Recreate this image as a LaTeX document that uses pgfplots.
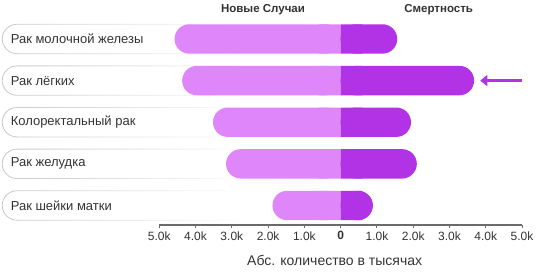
\documentclass[border=0pt]{standalone}
\usepackage{fontspec}
\setmainfont{Liberation Sans}
\usepackage{pgfplots}
\pgfplotsset{compat=1.18}
\usetikzlibrary{fadings,arrows.meta}
\definecolor{lightp}{HTML}{DF86FA}
\definecolor{darkp}{HTML}{B233E6}
\definecolor{axgray}{HTML}{6B6B6B}
\definecolor{txt}{HTML}{333333}
\tikzset{lbox/.style={draw=black!22, line width=0.8pt, rounded corners=14.7pt, path fading=east}}
\begin{document}
\begin{tikzpicture}[x=1pt,y=1pt]
\useasboundingbox (0,0) rectangle (542,272);
\node[font=\bfseries\fontsize{11.5}{13}\selectfont, text=txt] at (263,262.5) {Новые Случаи};
\node[font=\bfseries\fontsize{11.5}{13}\selectfont, text=txt] at (438.7,262.5) {Смертность};
\begin{axis}[
  at={(159.3pt,47pt)}, anchor=south west,
  scale only axis, width=362.7pt, height=211pt,
  xmin=-5, xmax=5, ymin=-0.469, ymax=4.6,
  clip=false,
  axis x line*=bottom, axis y line=none,
  axis line style={axgray, line width=1.2pt, -},
  xtick={-5,-4,-3,-2,-1,0,1,2,3,4,5},
  xticklabels={5.0k,4.0k,3.0k,2.0k,1.0k,\textbf{0},1.0k,2.0k,3.0k,4.0k,5.0k},
  major tick length=3pt, tick align=outside,
  tick style={axgray, line width=1pt},
  ytick=\empty,
  xticklabel style={font=\fontsize{12}{14}\selectfont, text=txt},
  xlabel={Абс. количество в тысячах},
  xlabel style={font=\fontsize{14}{16}\selectfont, text=txt, xshift=-6pt, yshift=-8pt},
]
% label boxes
\draw[lbox] ([yshift=14.7pt]axis cs:-9.33,4) rectangle ([yshift=-14.7pt]axis cs:-2.5,4);
\draw[lbox] ([yshift=14.7pt]axis cs:-9.33,3) rectangle ([yshift=-14.7pt]axis cs:-2.5,3);
\draw[lbox] ([yshift=14.7pt]axis cs:-9.33,2) rectangle ([yshift=-14.7pt]axis cs:-2.5,2);
\draw[lbox] ([yshift=14.7pt]axis cs:-9.33,1) rectangle ([yshift=-14.7pt]axis cs:-2.5,1);
\draw[lbox] ([yshift=14.7pt]axis cs:-9.33,0) rectangle ([yshift=-14.7pt]axis cs:-2.5,0);
\node[anchor=west, inner sep=0pt, font=\fontsize{13}{15}\selectfont, text=txt] at (axis cs:-9.1,4) {Рак молочной железы};
\node[anchor=west, inner sep=0pt, font=\fontsize{13}{15}\selectfont, text=txt] at (axis cs:-9.1,3) {Рак лёгких};
\node[anchor=west, inner sep=0pt, font=\fontsize{13}{15}\selectfont, text=txt] at (axis cs:-9.1,2) {Колоректальный рак};
\node[anchor=west, inner sep=0pt, font=\fontsize{13}{15}\selectfont, text=txt] at (axis cs:-9.1,1) {Рак желудка};
\node[anchor=west, inner sep=0pt, font=\fontsize{13}{15}\selectfont, text=txt] at (axis cs:-9.1,0) {Рак шейки матки};
% new cases (left)
\addplot[xbar, bar shift=0pt, bar width=29.4pt, fill=lightp, draw=none, rounded corners=14.7pt]
  coordinates {(-4.58,4) (-4.37,3) (-3.52,2) (-3.16,1) (-1.88,0)};
\addplot[xbar, bar shift=0pt, bar width=29.4pt, fill=lightp, draw=none]
  coordinates {(-0.6,4) (-0.6,3) (-0.6,2) (-0.6,1) (-0.6,0)};
% deaths (right)
\addplot[xbar, bar shift=0pt, bar width=29.4pt, fill=darkp, draw=none, rounded corners=14.7pt]
  coordinates {(1.56,4) (3.68,3) (1.94,2) (2.10,1) (0.89,0)};
\addplot[xbar, bar shift=0pt, bar width=29.4pt, fill=darkp, draw=none]
  coordinates {(0.6,4) (0.6,3) (0.6,2) (0.6,1) (0.6,0)};
% arrow
\draw[darkp, line width=3pt, -{Triangle[length=7pt,width=11pt]}] (axis cs:5.0,3) -- (axis cs:3.85,3);
\end{axis}
\end{tikzpicture}
\end{document}
